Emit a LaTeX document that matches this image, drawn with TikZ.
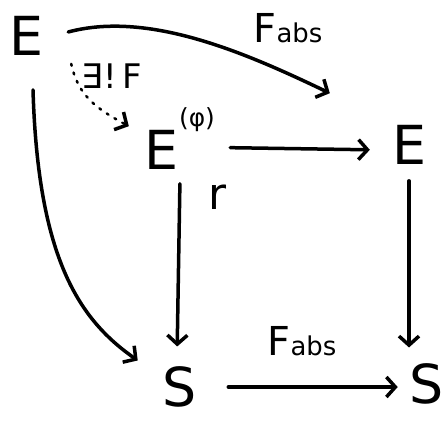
\documentclass[tikz,border=0pt]{standalone}
\usepackage{fontspec}
\setmainfont{DejaVu Sans}
\usetikzlibrary{arrows.meta}
\tikzset{
  obj/.style={inner sep=8bp,font=\fontsize{54}{58}\selectfont},
  lbl/.style={inner sep=0pt,font=\fontsize{40}{44}\selectfont},
  suplbl/.style={inner sep=0pt,font=\fontsize{25}{27}\selectfont},
  mor/.style={-{Straight Barb[length=9bp,width=20bp,line width=3.5bp]},line width=3.5bp,line cap=round,line join=round},
  dotmor/.style={mor,line width=2.5bp,dash pattern=on 2bp off 7bp}
}
\newcommand{\absname}{F{\fontsize{26}{28}\selectfont abs}}

\begin{document}
\begin{tikzpicture}[x=1bp,y=-1bp]
  \useasboundingbox (0,0) rectangle (445,420);

  % objects
  \node[obj] (eTop) at (26,36) {E};
  \node[obj] (ePhi) at (161,150) {E};
  \node[suplbl] (phiMark) at (197,120) {(φ)};
  \node[obj] (eRight) at (409,145) {E};
  \node[obj] (sLeft) at (180,387) {S};
  \node[obj] (sRight) at (427,384) {S};

  % labels
  \node[lbl] (absTop) at (288,28) {\absname};
  \node[lbl,font=\fontsize{34}{38}\selectfont] (existsF) at (112,76) {∃!\,F};
  \node[lbl,font=\fontsize{44}{48}\selectfont] (rLbl) at (218,197) {r};
  \node[lbl] (absBot) at (302,341) {\absname};

  % morphisms
  \draw[mor] ([shift={(17,-4)}]eTop.east) .. controls (150,10) and (250,55)
    .. ([shift={(-54,-24)}]eRight.north west);
  \draw[dotmor] ([shift={(20,0)}]eTop.south east) .. controls (78,95) and (95,108)
    .. ([shift={(-7,4)}]ePhi.north west);
  \draw[mor,shorten <=44bp,shorten >=14bp] ([yshift=3bp]ePhi.east) -- (ePhi.east -| eRight.west);
  \draw[mor,shorten <=6bp,shorten >=12bp] (ePhi.south -| sLeft.north) -- ([xshift=-3bp]sLeft.north);
  \draw[mor,shorten <=8bp,shorten >=8bp] (eRight.south) -- (eRight.south |- sRight.north);
  \draw[mor,shorten <=23bp,shorten >=4bp] (sLeft.east) -- (sLeft.east -| sRight.west);
  \draw[mor] ([shift={(7,26)}]eTop.south) .. controls (38,260) and (80,320)
    .. ([shift={(-17,2)}]sLeft.north west);
\end{tikzpicture}
\end{document}
